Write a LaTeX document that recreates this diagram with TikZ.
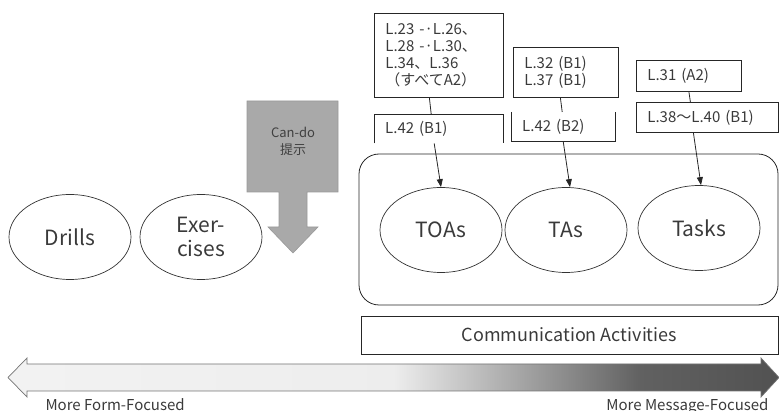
\documentclass[tikz,border=0pt]{standalone}
\usepackage{fontspec}
\setmainfont{Noto Sans CJK JP}
\usetikzlibrary{shapes.geometric,arrows.meta}
\definecolor{txtgray}{HTML}{3A3A3A}
\definecolor{cangray}{HTML}{A9A9A9}
\pgfdeclarehorizontalshading{focusshade}{100bp}{color(0bp)=(black!5); color(25bp)=(black!5); color(50bp)=(black!7); color(66bp)=(black!62); color(75bp)=(black!68); color(100bp)=(black!68)}

\begin{document}
\begin{tikzpicture}[x=1pt, y=-1pt,
  every node/.style={text=txtgray},
  act/.style={ellipse, draw=black!80, line width=.7pt, minimum width=122pt, minimum height=85pt, inner sep=0pt, align=center, font=\fontsize{21}{24}\selectfont},
  lbox/.style={draw=black!85, line width=.8pt, anchor=north west, align=left, inner xsep=11pt, inner ysep=0pt, font=\fontsize{15}{17}\selectfont},
  bracket/.style={anchor=north west, align=left, inner xsep=11pt, inner ysep=0pt, font=\fontsize{15}{17}\selectfont},
  link/.style={draw=black!85, line width=.8pt},
  tip/.style={-{Triangle[length=8pt,width=6pt]}}]
\useasboundingbox (0,0) rectangle (779,411);

\node[lbox, text width=107pt, minimum height=84pt] (r1) at (374,13) {L.23 -·L.26、\\L.28 -·L.30、\\L.34、L.36\\（すべてA2）};
\node[bracket, text width=107pt, minimum height=29pt] (k1) at (374,114) {L.42 (B1)};
\draw[link] (k1.south west) |- (k1.north east) -- (k1.south east);
\node[lbox, text width=83pt, minimum height=50pt] (r2) at (513,47) {L.32 (B1)\\L.37 (B1)};
\node[bracket, text width=82pt, minimum height=29pt] (k2) at (511,112) {L.42 (B2)};
\draw[link] (k2.north west) |- (k2.south east) -- (k2.north east);
\node[lbox, text width=83pt, minimum height=31pt] (r3) at (636,60) {L.31 (A2)};
\node[lbox, text width=120pt, minimum height=30pt] (r4) at (636,102) {L.38〜L.40 (B1)};

\node[act] (drills) at (70,237) {Drills};
\node[act] (exer) at (201,237) {Exer-\\cises};
\filldraw[fill=cangray, draw=black!40, line width=.6pt] (247,101) -- (338,101) -- (338,192) -- (307,192) -- (307,227) -- (318,227) -- (293,253) -- (268,227) -- (279,227) -- (279,192) -- (247,192) -- cycle;
\node[align=center, text=black!75, font=\fontsize{13}{17}\selectfont] (cando) at (293,141) {Can-do\\提示};

\node[draw=black!85, line width=.8pt, rounded corners=20pt, minimum width=419pt, minimum height=151pt] (area) at (568.5,229.5) {};
\node[act] (toas) at (441,230) {TOAs};
\node[act] (tas) at (566,230) {TAs};
\node[act] (tasks) at (699,228) {Tasks};
\node[draw=black!85, line width=.8pt, minimum width=417pt, minimum height=38pt, font=\fontsize{18}{20}\selectfont] (comm) at (569.5,335) {Communication Activities};

\draw[link] ([xshift=-9.5pt]r1.south) -- ([xshift=-7.5pt]k1.north);
\draw[link, tip] ([xshift=-4.5pt]k1.south) -- (toas.north);
\draw[link] ([xshift=-5.5pt]r2.south) -- ([xshift=-1pt]k2.north);
\draw[link, tip] (k2.south) -- ([xshift=4pt]tas.north);
\draw[link] (r3.south) -- ([xshift=-17pt]r4.north);
\draw[link, tip] ([xshift=-14pt]r4.south) -- ([xshift=2pt]tasks.north);

\shadedraw[shading=focusshade, draw=black!55, line width=.7pt] (8,377.5) -- (27,358) -- (27,364) -- (761,364) -- (761,358) -- (779,377.5) -- (761,397) -- (761,391) -- (27,391) -- (27,397) -- cycle;
\node[anchor=base west, font=\fontsize{15}{17}\selectfont] (formlbl) at (42,410) {More Form-Focused};
\node[anchor=base east, font=\fontsize{15}{17}\selectfont] (msglbl) at (772,410) {More Message-Focused};
\end{tikzpicture}
\end{document}
